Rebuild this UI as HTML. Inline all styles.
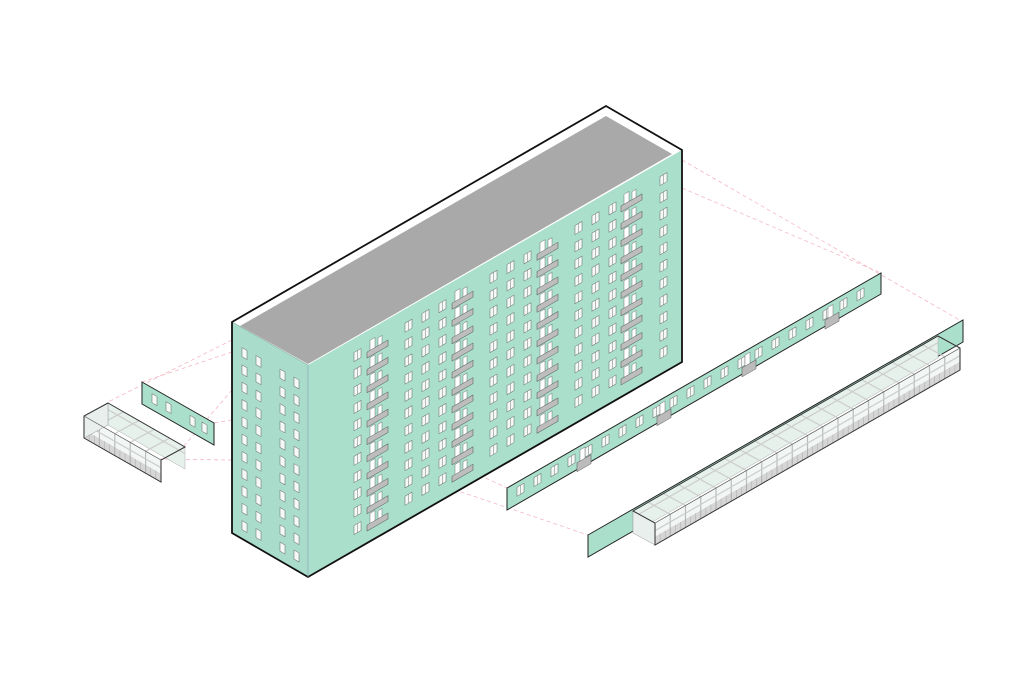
<!DOCTYPE html>
<html><head><meta charset="utf-8"><style>html,body{margin:0;background:#fff}svg{display:block}</style></head>
<body>
<svg id="s" width="1023" height="692" viewBox="0 0 1023 692" xmlns="http://www.w3.org/2000/svg">
<g stroke="#f4b8c4" stroke-width="0.8" stroke-dasharray="4,3" fill="none">
<path d="M682 160 L963 322"/><path d="M682 188 L881 273"/>
<path d="M232 352 L142 382"/><path d="M232 340 L108 402"/>
<path d="M232 390 L184 446"/><path d="M232 420 L214 423"/>
<path d="M308 395 L507 488"/><path d="M308 440 L588 535"/>
<path d="M232 460 L160 459"/>
</g>
<polygon points="232,322 308,365 308,577 232,533" fill="#a9dccb" stroke="#7fa99a" stroke-width="0.6"/>
<polygon points="308,365 682,150 682,362 308,577" fill="#a9dfcb"/>
<polygon points="240,326 606,116 672,154 308,364" fill="#a9a9a9"/>
<polygon points="232,322 606,106 682,150 682,362 308,577 232,533" fill="none" stroke="#111" stroke-width="1.8"/>
<line x1="308" y1="365" x2="308" y2="577" stroke="#8ab" stroke-width="0.6"/>
<g id="front" transform="matrix(1,-0.575,0,1,308,365)"></g>
<g id="left" transform="matrix(1,0.566,0,1,232,322)"></g>
<polygon points="142,382 214,423 214,445 142,404" fill="#a9dfcb" stroke="#222" stroke-width="1"/>
<g id="lp" transform="matrix(1,0.57,0,1,142,382)"></g>
<g id="lmod"></g>
<polygon points="507,488 881,273 881,294 507,510" fill="#a9dfcb" stroke="#222" stroke-width="1"/>
<g id="p2" transform="matrix(1,-0.575,0,1,507,488)"></g>
<polygon points="588,535 963,320 963,342 588,557" fill="#a9dfcb" stroke="#222" stroke-width="1"/>
<g id="rmod"></g>
</svg>
<script>
var NS="http://www.w3.org/2000/svg";
function el(g,t,a){var e=document.createElementNS(NS,t);for(var k in a)e.setAttribute(k,a[k]);g.appendChild(e);return e;}
function r(g,x,y,w,h,f,s){el(g,"rect",{x:x,y:y,width:w,height:h,fill:f,stroke:s||"#777","stroke-width":0.5});}
function win(g,x,y){r(g,x,y,7,9,"#f4f8f6","#666");el(g,"line",{x1:x+3.5,y1:y,x2:x+3.5,y2:y+9,stroke:"#777","stroke-width":0.5});}
function win1(g,x,y){r(g,x,y,5,9,"#f4f8f6","#666");}
var F=document.getElementById("front"),B=[62,147,232,316];
for(var f=0;f<11;f++){var v=14+f*17.3;
 for(var u=46;u<366;u+=17){var skip=false;B.forEach(function(b){if(u>b-8&&u<b+20)skip=true});if(!skip)win(F,u,v);}
 B.forEach(function(b){r(F,b,v-3,5,14,"#fff");r(F,b+8,v-1,4,10,"#fff");r(F,b-3,v+7,21,6,"#bdbdbd","#555");});
}
var L=document.getElementById("left");
for(var f=0;f<11;f++){var v=20+f*17.3;[10,24,48,62].forEach(function(u){win1(L,u,v)});}
var P=document.getElementById("lp");[10,24,48,60].forEach(function(u){win1(P,u,6)});
var P2=document.getElementById("p2");
for(var u=10;u<366;u+=17){win(P2,u,5);}
[70,150,235,318].forEach(function(b){r(P2,b,15,14,9,"#bbb","#555");r(P2,b+3,4,5,11,"#fff")});
function mod(g,x,y,lx,ly,dx,dy,h,n){
 var P=function(a){return a.map(function(p){return p[0]+","+p[1]}).join(" ")};
 var A=[x,y],Bp=[x+lx,y+ly],C=[x+lx+dx,y+ly+dy],D=[x+dx,y+dy];
 el(g,"polygon",{points:P([D,C,[C[0],C[1]+h],[D[0],D[1]+h]]),fill:"#e6f1ec",stroke:"#aaa","stroke-width":0.5});
 el(g,"polygon",{points:P([A,Bp,[Bp[0],Bp[1]+h],[A[0],A[1]+h]]),fill:"#f2f7f5",stroke:"#999","stroke-width":0.5});
 el(g,"polygon",{points:P([[A[0],A[1]+h*0.62],[Bp[0],Bp[1]+h*0.62],[Bp[0],Bp[1]+h],[A[0],A[1]+h]]),fill:"#d6d6d6",stroke:"none"});
 for(var i=0;i<=n;i++){var t=i/n,px=A[0]+lx*t,py=A[1]+ly*t;
  el(g,"line",{x1:px,y1:py,x2:px,y2:py+h,stroke:"#bbb","stroke-width":1.2});
  el(g,"line",{x1:px,y1:py,x2:px+dx,y2:py+dy,stroke:"#ccc","stroke-width":1.2});}
 for(var i=0;i<n*3;i++){var t=i/(n*3),px=A[0]+lx*t,py=A[1]+ly*t;
  el(g,"line",{x1:px,y1:py+h*0.62,x2:px,y2:py+h,stroke:"#aaa","stroke-width":0.5});}
 el(g,"line",{x1:A[0],y1:A[1]+h*0.35,x2:Bp[0],y2:Bp[1]+h*0.35,stroke:"#ccc","stroke-width":1.2});
 el(g,"line",{x1:D[0],y1:D[1]+h*0.3,x2:C[0],y2:C[1]+h*0.3,stroke:"#ccc","stroke-width":1.2});
 el(g,"polygon",{points:P([A,D,[D[0],D[1]+h],[A[0],A[1]+h]]),fill:"#e9efec",stroke:"#999","stroke-width":0.5});
 el(g,"polygon",{points:P([D,C,Bp,[Bp[0],Bp[1]+h],[A[0],A[1]+h],A]),fill:"none",stroke:"#333","stroke-width":1});
 el(g,"line",{x1:A[0],y1:A[1],x2:Bp[0],y2:Bp[1],stroke:"#555","stroke-width":0.7});
}
mod(document.getElementById("lmod"),84,416,77,44,24,-13,22,5);
mod(document.getElementById("rmod"),655,523,305,-175,-22,-12,22,20);
</script>
</body></html>
